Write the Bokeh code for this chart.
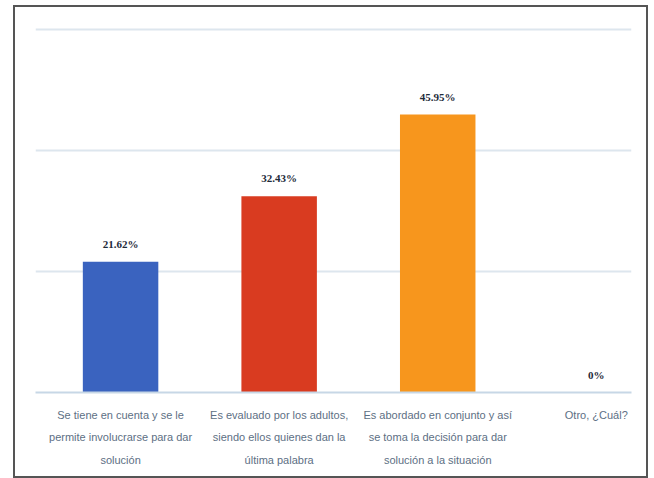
from bokeh.plotting import figure
from bokeh.models import Range1d, FixedTicker, ColumnDataSource, LabelSet
from bokeh.embed import file_html
from bokeh.resources import INLINE

categories = [
    "Se tiene en cuenta y se le\npermite involucrarse para dar\nsolución",
    "Es evaluado por los adultos,\nsiendo ellos quienes dan la\núltima palabra",
    "Es abordado en conjunto y así\nse toma la decisión para dar\nsolución a la situación",
    "Otro, ¿Cuál?",
]
values = [21.62, 32.43, 45.95, 0.0]
value_labels = ["21.62%", "32.43%", "45.95%", "0%"]
colors = ["#3a63bf", "#d93b20", "#f7961d", "#a5a5a5"]
positions = [0, 1, 2, 3]

FONT = "Liberation Sans"

p = figure(width=635, height=473, output_backend="svg", toolbar_location=None,
           x_range=Range1d(-0.5365, 3.222), y_range=Range1d(0, 62),
           min_border_left=20, min_border_right=19, min_border_top=10,
           min_border_bottom=88)
p.styles = {"border": "2px solid #555555", "margin-left": "13px",
            "margin-top": "5px"}
p.outline_line_color = None

src = ColumnDataSource(dict(x=positions, top=values, color=colors,
                            label=value_labels))
p.vbar(x="x", top="top", width=0.476, bottom=0, fill_color="color",
       line_color=None, source=src)

labels = LabelSet(x="x", y="top", text="label", source=src,
                  text_align="center", text_baseline="bottom",
                  y_offset=12, text_font="Roboto", text_font_style="bold",
                  text_font_size="11px", text_color="#1e2b3a")
p.add_layout(labels)

p.yaxis.visible = False
p.ygrid.ticker = FixedTicker(ticks=[20, 40, 60])
p.ygrid.grid_line_color = "#dde6ee"
p.ygrid.grid_line_width = 2
p.xgrid.visible = False

xa = p.xaxis[0]
xa.ticker = FixedTicker(ticks=positions)
xa.major_label_overrides = {i: c for i, c in zip(positions, categories)}
xa.axis_line_color = "#c7d7e6"
xa.axis_line_width = 2
xa.major_tick_line_color = None
xa.minor_tick_line_color = None
xa.major_label_text_font = FONT
xa.major_label_text_font_size = "11px"
xa.major_label_text_color = "#5d6f84"
xa.major_label_text_line_height = 1.9
xa.major_label_standoff = 10

with open("out.html", "w") as f:
    f.write(file_html(p, INLINE))
